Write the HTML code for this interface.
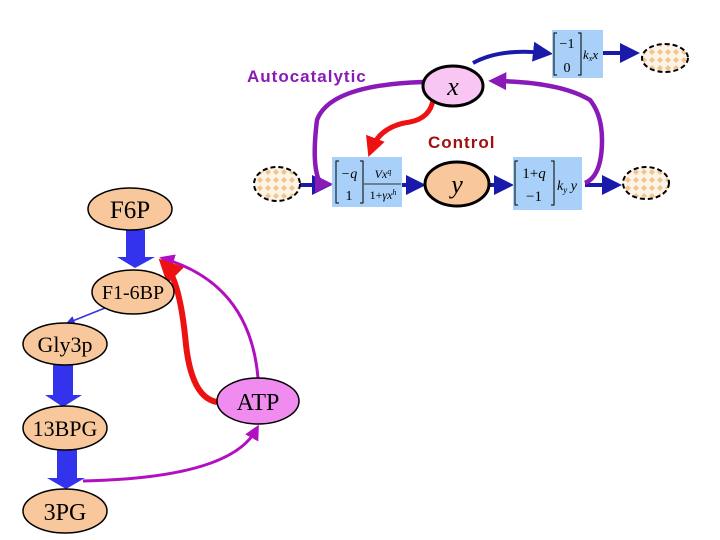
<!DOCTYPE html>
<html><head><meta charset="utf-8"><style>
html,body{margin:0;padding:0;background:#fff;}
svg{display:block;}
.ser{font-family:"Liberation Serif",serif;}
.san{font-family:"Liberation Sans",sans-serif;font-weight:bold;}
</style></head><body>
<svg width="720" height="540" viewBox="0 0 720 540" xmlns="http://www.w3.org/2000/svg">
<defs>
<pattern id="dm" width="8" height="8" patternUnits="userSpaceOnUse">
<rect width="8" height="8" fill="#fdf3e6"/>
<path d="M4 1 L7 4 L4 7 L1 4Z" fill="#f0c690"/>
</pattern>
<marker id="ab" markerWidth="5" markerHeight="5" refX="3" refY="2.5" orient="auto" markerUnits="strokeWidth"><path d="M0 0 L5 2.5 L0 5Z" fill="#1a1aaa"/></marker>
<marker id="ap" markerWidth="4" markerHeight="4" refX="2.5" refY="2" orient="auto" markerUnits="strokeWidth"><path d="M0 0 L4 2 L0 4Z" fill="#8a1ab8"/></marker>
<marker id="ar" markerWidth="4" markerHeight="4" refX="2.5" refY="2" orient="auto" markerUnits="strokeWidth"><path d="M0 0 L4 2 L0 4Z" fill="#ee1111"/></marker>
<marker id="am" markerWidth="5" markerHeight="5" refX="3" refY="2.5" orient="auto" markerUnits="strokeWidth"><path d="M0 0 L5 2.5 L0 5Z" fill="#b010c0"/></marker>
<marker id="ab2" markerWidth="6" markerHeight="6" refX="3" refY="3" orient="auto" markerUnits="strokeWidth"><path d="M0 0 L6 3 L0 6Z" fill="#3333dd"/></marker>
</defs>

<path d="M473 63 Q500 48 545 53" fill="none" stroke="#1a1aaa" stroke-width="4" marker-end="url(#ab)"/>
<line x1="603" y1="53" x2="632" y2="53" stroke="#1a1aaa" stroke-width="4" marker-end="url(#ab)"/>
<line x1="300" y1="185" x2="324" y2="185" stroke="#1a1aaa" stroke-width="4" marker-end="url(#ab)"/>
<line x1="402" y1="185" x2="418" y2="185" stroke="#1a1aaa" stroke-width="4" marker-end="url(#ab)"/>
<line x1="490" y1="185" x2="506" y2="185" stroke="#1a1aaa" stroke-width="4" marker-end="url(#ab)"/>
<line x1="585" y1="185" x2="614" y2="185" stroke="#1a1aaa" stroke-width="4" marker-end="url(#ab)"/>

<path d="M423 82 Q330 85 317 120 Q312 160 318 178 Q322 184 326 184" fill="none" stroke="#8a1ab8" stroke-width="4.5" marker-end="url(#ap)"/>
<path d="M585 183 Q602 176 602 140 Q602 115 590 100 Q560 82 495 81" fill="none" stroke="#8a1ab8" stroke-width="4.5" marker-end="url(#ap)"/>
<path d="M433 100 Q430 118 410 122 Q380 126 371 150" fill="none" stroke="#ee1111" stroke-width="5" marker-end="url(#ar)"/>

<ellipse cx="453" cy="86" rx="30" ry="20" fill="#f9c6f4" stroke="#000" stroke-width="3"/>
<text x="453" y="95" class="ser" font-size="26" font-style="italic" text-anchor="middle">x</text>
<ellipse cx="457" cy="184" rx="32" ry="22" fill="#f8c89c" stroke="#000" stroke-width="3"/>
<text x="457" y="193" class="ser" font-size="26" font-style="italic" text-anchor="middle">y</text>

<ellipse cx="665" cy="58" rx="23" ry="14" fill="url(#dm)" stroke="#000" stroke-width="2" stroke-dasharray="5,3"/>
<ellipse cx="277" cy="184" rx="23" ry="17" fill="url(#dm)" stroke="#000" stroke-width="2" stroke-dasharray="5,3"/>
<ellipse cx="646" cy="183" rx="23" ry="16" fill="url(#dm)" stroke="#000" stroke-width="2" stroke-dasharray="5,3"/>

<rect x="552" y="30" width="51" height="48" fill="#a8d0f8"/>
<text x="567" y="48" class="ser" font-size="14" text-anchor="middle">−1</text>
<text x="567" y="72" class="ser" font-size="14" text-anchor="middle">0</text>
<path d="M557 33 h-3 v42 h3 M578 33 h3 v42 h-3" fill="none" stroke="#000" stroke-width="1"/>
<text x="583" y="59" class="ser" font-size="13" font-style="italic">k<tspan font-size="8" dy="2">x</tspan><tspan dy="-2">x</tspan></text>

<rect x="332" y="157" width="70" height="50" fill="#a8d0f8"/>
<path d="M339 161 h-3 v42 h3 M360 161 h3 v42 h-3" fill="none" stroke="#000" stroke-width="1"/>
<text x="349" y="178" class="ser" font-size="14" text-anchor="middle" font-style="italic">−q</text>
<text x="349" y="200" class="ser" font-size="14" text-anchor="middle">1</text>
<text x="383" y="178" class="ser" font-size="12" text-anchor="middle" font-style="italic">Vx<tspan font-size="8" dy="-4">q</tspan></text>
<line x1="364" y1="184" x2="401" y2="184" stroke="#000" stroke-width="0.8"/>
<text x="383" y="199" class="ser" font-size="12" text-anchor="middle">1+<tspan font-style="italic">γx<tspan font-size="8" dy="-4">h</tspan></tspan></text>

<rect x="513" y="157" width="69" height="53" fill="#a8d0f8"/>
<path d="M518 161 h-3 v44 h3 M551 161 h3 v44 h-3" fill="none" stroke="#000" stroke-width="1"/>
<text x="534" y="178" class="ser" font-size="15" text-anchor="middle">1+<tspan font-style="italic">q</tspan></text>
<text x="534" y="201" class="ser" font-size="15" text-anchor="middle">−1</text>
<text x="557" y="190" class="ser" font-size="14" font-style="italic">k<tspan font-size="9" dy="3">y</tspan><tspan dy="-3"> y</tspan></text>

<text x="247" y="82" class="san" font-size="17" fill="#8a1ab8" letter-spacing="1">Autocatalytic</text>
<text x="428" y="148" class="san" font-size="17" fill="#a01010" letter-spacing="1">Control</text>

<polygon points="126,230 145,230 145,257 155,257 135,268 117,257 126,257" fill="#3333ee"/>
<polygon points="53,365 73,365 73,395 82,395 63,407 45,395 53,395" fill="#3333ee"/>
<polygon points="57,450 77,450 77,478 85,478 66,489 47,478 57,478" fill="#3333ee"/>
<line x1="105" y1="308" x2="70" y2="322" stroke="#3333dd" stroke-width="1.5" marker-end="url(#ab2)"/>

<path d="M258 378 Q250 285 165 259" fill="none" stroke="#b010c0" stroke-width="3" marker-end="url(#am)"/>
<path d="M83 481 Q230 478 256 430" fill="none" stroke="#b010c0" stroke-width="3" marker-end="url(#am)"/>
<path d="M217 402 Q192 398 186 345 Q180 280 165 265" fill="none" stroke="#ee1111" stroke-width="6" marker-end="url(#ar)"/>

<ellipse cx="130" cy="209" rx="42" ry="21" fill="#f8c89c" stroke="#000" stroke-width="1.5"/>
<text x="130" y="218" class="ser" font-size="25" text-anchor="middle">F6P</text>
<ellipse cx="133" cy="292" rx="41" ry="22" fill="#f8c89c" stroke="#000" stroke-width="1.5"/>
<text x="133" y="299" class="ser" font-size="20" text-anchor="middle">F1-6BP</text>
<ellipse cx="65" cy="344" rx="42" ry="21" fill="#f8c89c" stroke="#000" stroke-width="1.5"/>
<text x="65" y="352" class="ser" font-size="22" text-anchor="middle">Gly3p</text>
<ellipse cx="65" cy="428" rx="42" ry="22" fill="#f8c89c" stroke="#000" stroke-width="1.5"/>
<text x="65" y="436" class="ser" font-size="22" text-anchor="middle">13BPG</text>
<ellipse cx="65" cy="511" rx="42" ry="22" fill="#f8c89c" stroke="#000" stroke-width="1.5"/>
<text x="65" y="520" class="ser" font-size="24" text-anchor="middle">3PG</text>
<ellipse cx="258" cy="401" rx="41" ry="23" fill="#f08cf0" stroke="#000" stroke-width="1.5"/>
<text x="258" y="410" class="ser" font-size="24" text-anchor="middle">ATP</text>
</svg>
</body></html>
